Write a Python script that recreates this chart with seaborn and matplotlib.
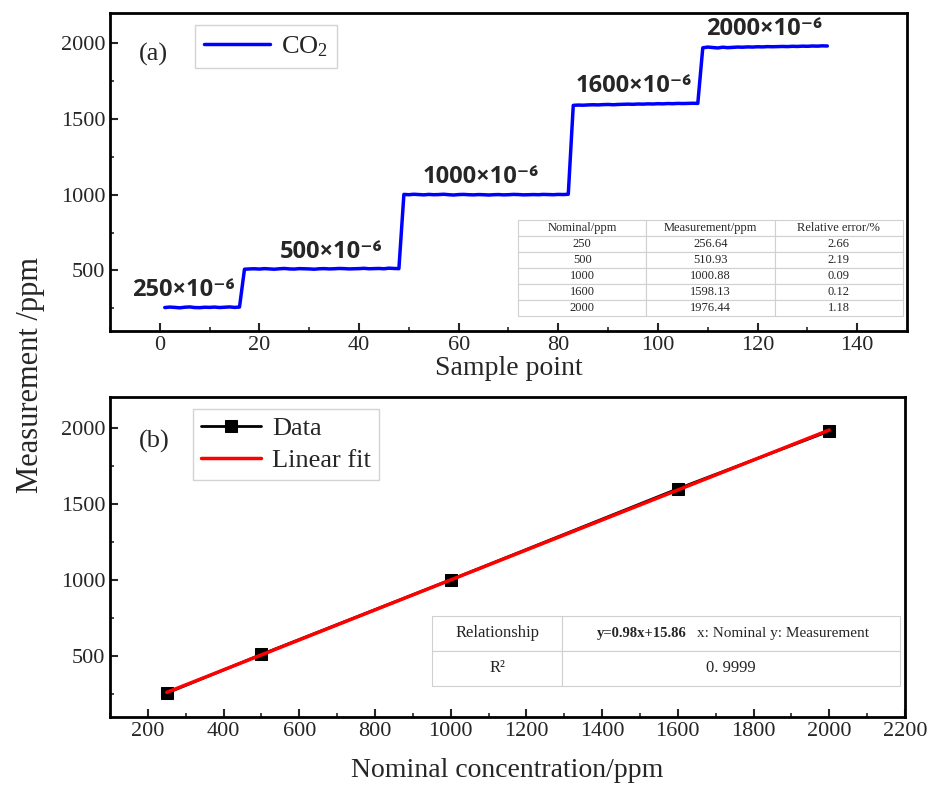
# Import Libraries
import numpy as np
import pandas as pd
import matplotlib
matplotlib.use("Agg")
import matplotlib.pyplot as plt
import seaborn as sns

# ---- data ----
# panel (a): CO2 measurement over sample points
seg_250 = [255, 258, 256, 253, 257, 259, 255, 254, 257, 256, 258, 255, 257, 259, 256, 258]
seg_500 = [508, 510, 511, 509, 512, 510, 508, 511, 513, 510, 509, 512, 511, 510, 508, 511,
           512, 510, 511, 513, 512, 510, 511, 512, 514, 511, 512, 513, 511, 515, 513, 512]
seg_1000 = [1002, 1000, 1003, 1001, 999, 1002, 1000, 1001, 1003, 1000, 998, 1001, 1002, 1000,
            999, 1001, 1000, 998, 1000, 1001, 999, 1000, 1002, 1001, 999, 1000, 1001, 1000,
            1002, 1001, 1000, 1002, 1001, 1003]
seg_1600 = [1590, 1592, 1591, 1593, 1594, 1593, 1595, 1596, 1594, 1596, 1597, 1598, 1597, 1599,
            1598, 1600, 1599, 1601, 1600, 1602, 1601, 1603, 1602, 1603, 1604, 1603]
seg_2000 = [1970, 1975, 1972, 1969, 1974, 1971, 1973, 1975, 1974, 1976, 1975, 1977, 1976, 1978,
            1977, 1978, 1979, 1978, 1980, 1979, 1981, 1980, 1982, 1981, 1983, 1982]
co2_values = seg_250 + seg_500 + seg_1000 + seg_1600 + seg_2000
sample_points = list(range(1, len(co2_values) + 1))

step_labels = ["250×10⁻⁶", "500×10⁻⁶", "1000×10⁻⁶", "1600×10⁻⁶", "2000×10⁻⁶"]
step_label_x = [-5.5, 24, 52.8, 83.5, 109.6]
step_label_y = [368, 619, 1115, 1716, 2093]

# table in panel (a)
tab_a_header = ["Nominal/ppm", "Measurement/ppm", "Relative error/%"]
nominal = [250, 500, 1000, 1600, 2000]
measured = [256.64, 510.93, 1000.88, 1598.13, 1976.44]
rel_error = ["2.66", "2.19", "0.09", "0.12", "1.18"]

# panel (b) fit summary
fit_equation = "y=0.98x+15.86"
fit_note = "x: Nominal y: Measurement"
r_squared = "0. 9999"

df_a = pd.DataFrame({"sample": sample_points, "co2": co2_values})
df_b = pd.DataFrame({"nominal": nominal, "measured": measured})

# ---- style ----
sns.set_style("ticks")
plt.rcParams["font.family"] = ["Liberation Serif", "DejaVu Serif"]
plt.rcParams["mathtext.fontset"] = "custom"
plt.rcParams["mathtext.rm"] = "Liberation Serif"
plt.rcParams["mathtext.it"] = "Liberation Serif:italic"
plt.rcParams["axes.linewidth"] = 2

fig = plt.figure(figsize=(9.32, 7.87), dpi=100)
ax1 = fig.add_axes([0.118, 0.5794, 0.8552, 0.4041])
ax2 = fig.add_axes([0.118, 0.0889, 0.853, 0.4066])

# ---- panel (a) ----
sns.lineplot(data=df_a, x="sample", y="co2", ax=ax1, color="#0000ff", lw=2.5, label="CO$_2$")
ax1.set_xlim(-10, 150)
ax1.set_ylim(100, 2200)
ax1.set_xticks(range(0, 141, 20))
ax1.set_xticks(range(-10, 150, 10), minor=True)
ax1.set_yticks([500, 1000, 1500, 2000])
ax1.set_yticks(range(250, 2200, 250), minor=True)
ax1.set_xlabel("Sample point", fontsize=20, labelpad=1)
ax1.set_ylabel("")

for lab, lx, ly in zip(step_labels, step_label_x, step_label_y):
    ax1.text(lx, ly, lab, fontsize=17, fontweight="bold", ha="left", va="center",
             family=["Open Sans", "DejaVu Sans"])

ax1.text(0.036, 0.87, "(a)", transform=ax1.transAxes, fontsize=19, ha="left", va="center")
leg1 = ax1.legend(loc="upper left", bbox_to_anchor=(0.107, 0.962), borderaxespad=0,
                  fontsize=19, fancybox=False, handlelength=2.5, frameon=True,
                  borderpad=0.35, handletextpad=0.4)
leg1.get_frame().set_edgecolor("#c8c8c8")
leg1.get_frame().set_linewidth(1)

rows_a = [[str(n), f"{m:.2f}", e] for n, m, e in zip(nominal, measured, rel_error)]
tab_a = ax1.table(cellText=rows_a, colLabels=tab_a_header, cellLoc="center",
                  bbox=[0.512, 0.047, 0.483, 0.302])
tab_a.auto_set_font_size(False)
for cell in tab_a.get_celld().values():
    cell.set_edgecolor("#d0d0d0")
    cell.set_linewidth(0.8)
    cell.get_text().set_fontsize(9)

# ---- panel (b) ----
sns.lineplot(data=df_b, x="nominal", y="measured", ax=ax2, color="black", lw=2,
             marker="s", markersize=8, markeredgecolor="black", label="Data")
sns.regplot(data=df_b, x="nominal", y="measured", ax=ax2, scatter=False, ci=None,
            color="#ff0000", label="Linear fit", line_kws=dict(lw=2.5))
ax2.set_xlim(100, 2200)
ax2.set_ylim(100, 2200)
ax2.set_xticks(range(200, 2201, 200))
ax2.set_xticks(range(100, 2200, 100), minor=True)
ax2.set_yticks([500, 1000, 1500, 2000])
ax2.set_yticks(range(250, 2200, 250), minor=True)
ax2.set_xlabel("Nominal concentration/ppm", fontsize=20, labelpad=12)
ax2.set_ylabel("")

ax2.text(0.036, 0.86, "(b)", transform=ax2.transAxes, fontsize=19, ha="left", va="center")
leg2 = ax2.legend(loc="upper left", bbox_to_anchor=(0.104, 0.9625), borderaxespad=0,
                  fontsize=19, fancybox=False, handlelength=2.3, frameon=True,
                  borderpad=0.3, handletextpad=0.4, labelspacing=0.3)
leg2.get_frame().set_edgecolor("#c8c8c8")
leg2.get_frame().set_linewidth(1)

tab_b = ax2.table(cellText=[["Relationship", ""], ["R²", r_squared]], cellLoc="center",
                  colWidths=[0.278, 0.722], bbox=[0.405, 0.097, 0.589, 0.219])
tab_b.auto_set_font_size(False)
for cell in tab_b.get_celld().values():
    cell.set_edgecolor("#d0d0d0")
    cell.set_linewidth(0.8)
    cell.get_text().set_fontsize(12)
ax2.text(0.725, 0.261, fit_equation, transform=ax2.transAxes, fontsize=10.5,
         fontweight="bold", ha="right", va="center")
ax2.text(0.738, 0.261, fit_note, transform=ax2.transAxes, fontsize=11,
         ha="left", va="center")

for ax in (ax1, ax2):
    ax.tick_params(which="major", direction="in", length=6, width=1.5, labelsize=16)
    ax.tick_params(which="minor", direction="in", length=3, width=1.2)
    for s in ax.spines.values():
        s.set_visible(True)
        s.set_color("black")

fig.text(0.033, 0.523, "Measurement /ppm", rotation=90, fontsize=22, ha="center", va="center")

plt.savefig("out.png", dpi=100)
